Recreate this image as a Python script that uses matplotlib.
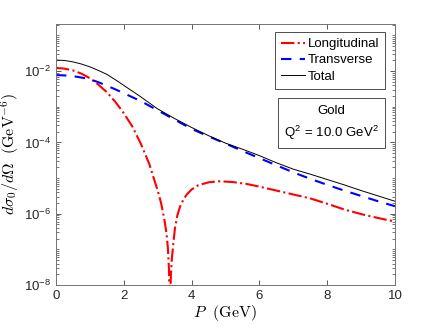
import numpy as np
import matplotlib
matplotlib.use('Agg')
import matplotlib.pyplot as plt
from matplotlib.ticker import LogLocator, NullFormatter, FixedLocator
from matplotlib.patches import Rectangle

plt.rcParams['font.family'] = ['Liberation Sans', 'DejaVu Sans']
plt.rcParams['mathtext.fontset'] = 'cm'

# values are log10 of dsigma0/dOmega
P_T = [0, 0.25, 0.5, 0.75, 1.0, 1.25, 1.5, 1.75, 2.0, 2.25, 2.5, 2.75, 3.0, 3.5, 4.0, 4.5, 5.0, 5.5, 6.0, 6.5,
       7.0, 7.5, 8.0, 8.5, 9.0, 9.5, 10.0]
logT = [-2.11, -2.12, -2.14, -2.18, -2.23, -2.31, -2.41, -2.51, -2.62, -2.73, -2.84, -2.97, -3.10, -3.36, -3.62,
        -3.83, -4.03, -4.24, -4.44, -4.64, -4.84, -5.02, -5.19, -5.35, -5.50, -5.65, -5.79]
logTot = [-1.69, -1.70, -1.74, -1.80, -1.88, -1.98, -2.09, -2.24, -2.40, -2.56, -2.72, -2.89, -3.06, -3.33, -3.58,
          -3.81, -4.02, -4.19, -4.37, -4.57, -4.75, -4.89, -5.04, -5.19, -5.35, -5.50, -5.65]

P_L = [0, 0.25, 0.5, 0.75, 1.0, 1.25, 1.5, 1.75, 2.0, 2.25, 2.5, 2.75, 3.0, 3.1, 3.2, 3.26, 3.30, 3.33, 3.35, 3.36,
       3.37, 3.39, 3.42, 3.46, 3.51, 3.58, 3.66, 3.75, 3.85, 4.0, 4.2, 4.5, 4.8, 5.2, 5.6, 6.0, 6.5, 7.0, 7.5, 8.0,
       8.5, 9.0, 9.5, 10.0]
logL = [-1.91, -1.93, -1.98, -2.07, -2.20, -2.38, -2.59, -2.86, -3.18, -3.55, -4.03, -4.60, -5.35, -5.70, -6.18,
        -6.55, -6.95, -7.5, -8.3, -9.5, -8.4, -7.7, -7.25, -6.85, -6.40, -6.05, -5.80, -5.62, -5.47, -5.32, -5.20,
        -5.12, -5.09, -5.11, -5.16, -5.24, -5.35, -5.46, -5.57, -5.72, -5.88, -6.01, -6.12, -6.22]

L = 10.0 ** np.array(logL)
T = 10.0 ** np.array(logT)
Tot = 10.0 ** np.array(logTot)

fig = plt.figure(figsize=(4.36, 3.27), dpi=100)
ax = fig.add_axes([0.1284, 0.1284, 0.7775, 0.7982])

ax.semilogy(P_L, L, color='r', linestyle='-.', linewidth=1.5, label='Longitudinal')
ax.semilogy(P_T, T, color='b', linestyle=(0, (5, 4)), linewidth=1.5, label='Transverse')
ax.semilogy(P_T, Tot, color='k', linestyle='-', linewidth=0.7, label='Total')

ax.set_xlim(0, 10)
ax.set_ylim(1e-8, 0.21)
ax.set_xticks([0, 2, 4, 6, 8, 10])
ax.yaxis.set_major_locator(FixedLocator([1e-8, 1e-6, 1e-4, 1e-2]))
ax.set_yticklabels([r'$\mathregular{10^{-8}}$', r'$\mathregular{10^{-6}}$', r'$\mathregular{10^{-4}}$',
                    r'$\mathregular{10^{-2}}$'])
ax.yaxis.set_minor_locator(LogLocator(base=10, subs=np.arange(1, 10), numticks=30))
ax.yaxis.set_minor_formatter(NullFormatter())

ax.tick_params(which='both', direction='in', top=True, right=True, colors='0.25', labelcolor='0.15',
               labelsize=9.5)
ax.tick_params(which='major', length=3.5, width=0.6)
ax.tick_params(which='minor', length=2, width=0.5)
for s in ax.spines.values():
    s.set_color('0.45')
    s.set_linewidth(0.7)

ax.set_xlabel(r'$P\ \ \mathrm{(GeV)}$', fontsize=11.5, labelpad=1)
ax.set_ylabel(r'$d\sigma_0/d\Omega\ \ \mathrm{(GeV^{-6})}$', fontsize=11.5, labelpad=2)

leg = ax.legend(loc='upper right', bbox_to_anchor=(0.9705, 0.969), borderaxespad=0, fontsize=9.5,
                fancybox=False, framealpha=1, edgecolor='0.3', handlelength=1.8, handletextpad=0.2,
                borderpad=0.45, labelspacing=0.3)
leg.get_frame().set_linewidth(0.7)

ax.add_patch(Rectangle((0.655, 0.525), 0.3155, 0.19, transform=ax.transAxes, facecolor='white',
                       edgecolor='0.3', linewidth=0.7, zorder=5))
ax.text(0.8127, 0.667, 'Gold', transform=ax.transAxes, ha='center', va='center', fontsize=9.5, zorder=6)
ax.text(0.8127, 0.583, r'Q$^\mathregular{2}$ = 10.0 GeV$^\mathregular{2}$', transform=ax.transAxes,
        ha='center', va='center', fontsize=9.5, zorder=6)

fig.savefig('out.png', dpi=100)
